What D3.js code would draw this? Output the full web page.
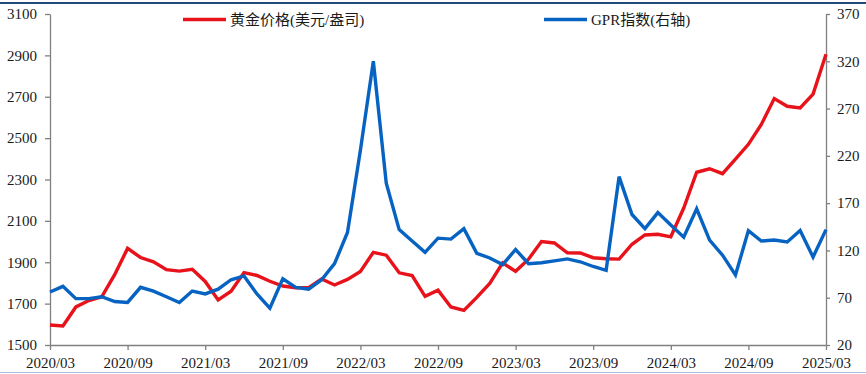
<!DOCTYPE html>
<html>
<head>
  <meta charset="utf-8">
  <script src="https://d3js.org/d3.v7.min.js"></script>
  <style>
    body { margin: 0; background: #fff; }
  </style>
</head>
<body>
  <div id="chart"></div>

  <script>
    // months along the x axis (one point per month)
    var months = [
      "2020/03","2020/04","2020/05","2020/06","2020/07","2020/08","2020/09","2020/10","2020/11","2020/12",
      "2021/01","2021/02","2021/03","2021/04","2021/05","2021/06","2021/07","2021/08","2021/09","2021/10","2021/11","2021/12",
      "2022/01","2022/02","2022/03","2022/04","2022/05","2022/06","2022/07","2022/08","2022/09","2022/10","2022/11","2022/12",
      "2023/01","2023/02","2023/03","2023/04","2023/05","2023/06","2023/07","2023/08","2023/09","2023/10","2023/11","2023/12",
      "2024/01","2024/02","2024/03","2024/04","2024/05","2024/06","2024/07","2024/08","2024/09","2024/10","2024/11","2024/12",
      "2025/01","2025/02","2025/03"
    ];

    // gold price, USD/oz (left axis)
    var gold = [
      1597, 1592, 1684, 1715, 1733, 1840, 1967, 1923, 1902, 1864,
      1857, 1866, 1807, 1718, 1760, 1850, 1836, 1808, 1785, 1777, 1777, 1819,
      1790, 1817, 1855, 1948, 1934, 1849, 1836, 1735, 1765, 1684, 1667, 1730,
      1798, 1897, 1856, 1915, 2000, 1993, 1946, 1945, 1922, 1917, 1915, 1987,
      2032, 2035, 2023, 2162, 2335, 2352, 2328, 2398, 2470, 2566, 2691, 2654,
      2646, 2713, 2905
    ];

    // GPR index (right axis)
    var gpr = [
      76, 82, 69, 69, 71, 66, 65, 81, 77, 71,
      65, 77, 74, 79, 89, 93, 74, 59, 90, 81, 79, 89,
      106, 139, 226, 320, 191, 142, 130, 118, 133, 132, 143, 117,
      112, 105, 121, 106, 107, 109, 111, 108, 103, 99, 198, 158,
      143, 160, 147, 134, 164, 131, 115, 94, 141, 130, 131, 129,
      141, 113, 142
    ];

    var xTicks = ["2020/03","2020/09","2021/03","2021/09","2022/03","2022/09","2023/03","2023/09","2024/03","2024/09","2025/03"];
    var leftTicks = [1500, 1700, 1900, 2100, 2300, 2500, 2700, 2900, 3100];
    var rightTicks = [20, 70, 120, 170, 220, 270, 320, 370];

    var W = 866, H = 374;
    var margin = { top: 14, right: 40, bottom: 29, left: 50 };
    var axisColor = "#808080";
    var red = "#e8121b", blue = "#0763c2";
    var serif = "'Liberation Serif', 'Times New Roman', 'Noto Sans CJK SC', serif";

    var svg = d3.select("#chart").append("svg")
      .attr("width", W)
      .attr("height", H);

    // frame lines at top and bottom of the picture
    svg.append("line").attr("x1", 0).attr("x2", W).attr("y1", 3).attr("y2", 3)
      .attr("stroke", "#1f4a7c").attr("stroke-width", 2);
    svg.append("line").attr("x1", 0).attr("x2", W).attr("y1", 372.5).attr("y2", 372.5)
      .attr("stroke", "#a9bddf").attr("stroke-width", 1);

    var x = d3.scalePoint().domain(months).range([margin.left, W - margin.right]);
    var yL = d3.scaleLinear().domain([1500, 3100]).range([H - margin.bottom, margin.top]);
    var yR = d3.scaleLinear().domain([20, 370]).range([H - margin.bottom, margin.top]);

    function styleAxis(g) {
      g.selectAll("path, line").attr("stroke", axisColor).attr("stroke-width", 1.3);
      g.selectAll("text")
        .style("font-family", serif)
        .style("font-size", "15px")
        .attr("fill", "#1a1a1a");
    }

    svg.append("g")
      .attr("transform", "translate(" + margin.left + ",0)")
      .call(d3.axisLeft(yL).tickValues(leftTicks).tickFormat(d3.format("d"))
        .tickSize(5).tickSizeOuter(0).tickPadding(8))
      .call(styleAxis);

    svg.append("g")
      .attr("transform", "translate(" + (W - margin.right) + ",0)")
      .call(d3.axisRight(yR).tickValues(rightTicks).tickFormat(d3.format("d"))
        .tickSize(4).tickSizeOuter(0).tickPadding(7))
      .call(styleAxis);

    svg.append("g")
      .attr("transform", "translate(0," + (H - margin.bottom) + ")")
      .call(d3.axisBottom(x).tickValues(xTicks).tickSize(5).tickSizeOuter(0).tickPadding(7))
      .call(styleAxis);

    // lines
    var lineGold = d3.line()
      .x(function(d, i) { return x(months[i]); })
      .y(function(d) { return yL(d); });
    var lineGpr = d3.line()
      .x(function(d, i) { return x(months[i]); })
      .y(function(d) { return yR(d); });

    svg.append("path").datum(gold)
      .attr("d", lineGold)
      .attr("fill", "none").attr("stroke", red).attr("stroke-width", 3.4);

    svg.append("path").datum(gpr)
      .attr("d", lineGpr)
      .attr("fill", "none").attr("stroke", blue).attr("stroke-width", 3.4);

    // legend
    var legend = [
      { label: "黄金价格(美元/盎司)", color: red, x: 183 },
      { label: "GPR指数(右轴)", color: blue, x: 544 }
    ];
    var lg = svg.append("g").selectAll("g").data(legend).enter().append("g");
    lg.append("line")
      .attr("x1", function(d) { return d.x; })
      .attr("x2", function(d) { return d.x + 43; })
      .attr("y1", 19.5).attr("y2", 19.5)
      .attr("stroke", function(d) { return d.color; })
      .attr("stroke-width", 3.4);
    lg.append("text")
      .attr("x", function(d) { return d.x + 47; })
      .attr("y", 25)
      .style("font-family", serif)
      .style("font-size", "15px")
      .attr("fill", "#1a1a1a")
      .text(function(d) { return d.label; });
  </script>
</body>
</html>
